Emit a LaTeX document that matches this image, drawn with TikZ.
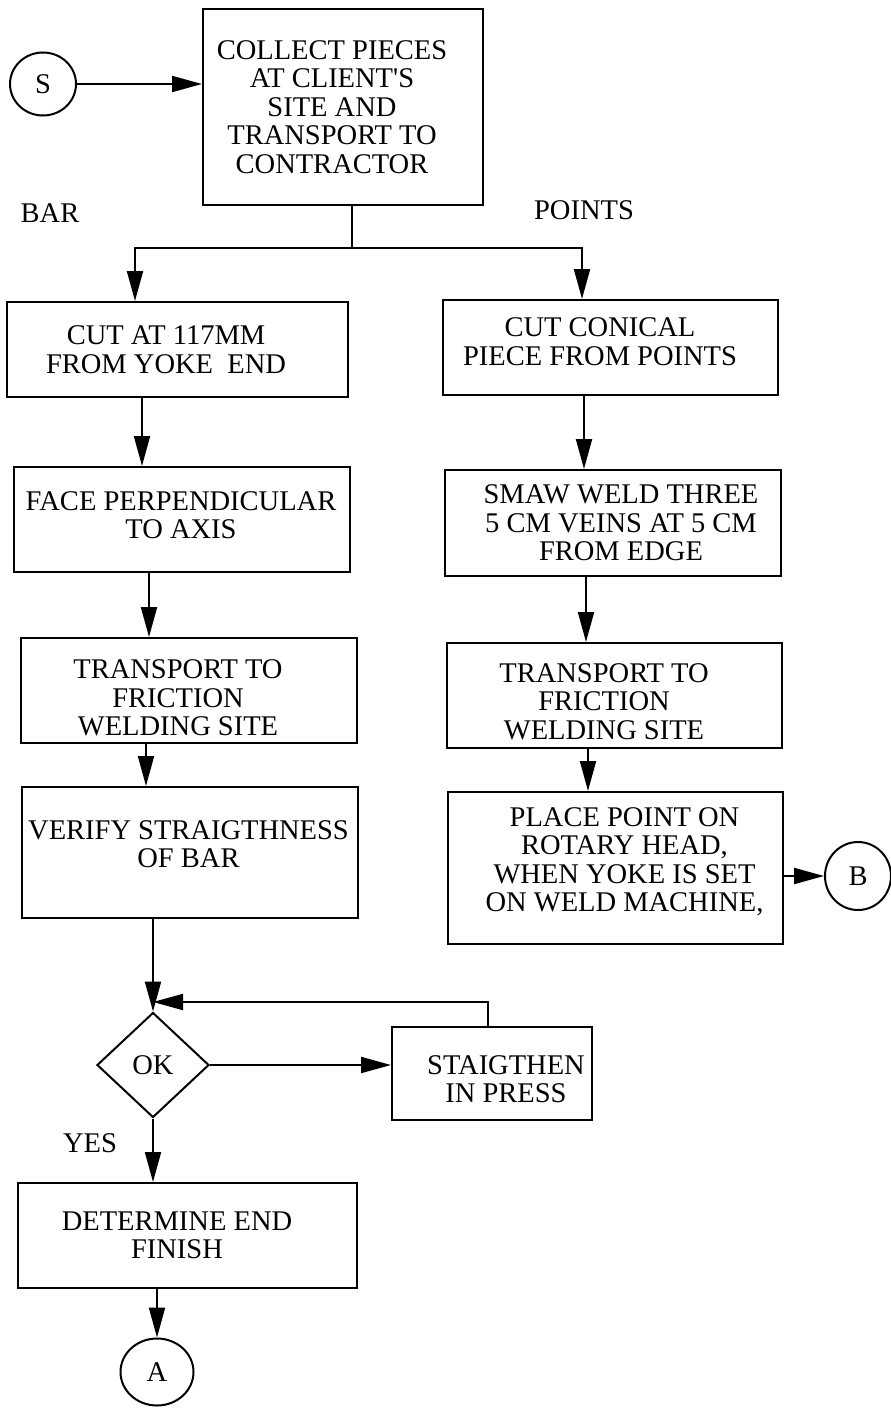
\documentclass[tikz,border=0pt]{standalone}
\usepackage{fontspec}
\setmainfont{Liberation Serif}
\usetikzlibrary{arrows.meta,shapes.geometric}

\begin{document}
\begin{tikzpicture}[x=1pt,y=-1pt,
  every node/.style={font=\fontsize{28.5}{28.5}\selectfont},
  box/.style={draw, line width=2pt, rectangle, inner sep=0pt},
  txt/.style={align=center, inner sep=0pt},
  term/.style={draw, ellipse, line width=2pt, inner sep=0pt},
  decision/.style={draw, diamond, line width=2pt, inner sep=0pt},
  flow/.style={line width=2pt, -{Triangle[length=30pt,width=16pt]}},
  link/.style={line width=2pt}
]
\useasboundingbox (0,0) rectangle (891,1408);

% start connector and first step
\node[term, minimum width=66pt, minimum height=63pt] (s) at (43,84) {S};
\node[box, minimum width=280pt, minimum height=196pt,
  label={[txt, xshift=-11pt]center:{COLLECT PIECES\\AT CLIENT\textquotesingle S\\SITE AND\\TRANSPORT TO\\CONTRACTOR}}]
  (collect) at (343,107) {};

% branch captions
\node (bar) at (50,213) {BAR};
\node (points) at (584,210) {POINTS};

% bar column
\node[box, minimum width=341pt, minimum height=95pt,
  label={[txt, xshift=-11.5pt]center:{CUT AT 117MM\\FROM YOKE\ \ END}}]
  (cut) at (177.5,349.5) {};
\node[box, minimum width=336pt, minimum height=105pt,
  label={[txt, xshift=-1pt, yshift=4.5pt]center:{FACE PERPENDICULAR\\TO AXIS}}]
  (face) at (182,519.5) {};
\node[box, minimum width=336pt, minimum height=105pt,
  label={[txt, xshift=-11pt, yshift=-7.5pt]center:{TRANSPORT TO\\FRICTION\\WELDING SITE}}]
  (trbar) at (189,690.5) {};
\node[box, minimum width=336pt, minimum height=131pt,
  label={[txt, xshift=-1.5pt, yshift=8.5pt]center:{VERIFY STRAIGTHNESS\\OF BAR}}]
  (verify) at (190,852.5) {};
\node[decision, minimum width=112pt, minimum height=105pt] (ok) at (153,1065) {OK};
\node[box, minimum width=200pt, minimum height=93pt,
  label={[txt, xshift=14pt, yshift=-5.5pt]center:{STAIGTHEN\\IN PRESS}}]
  (press) at (492,1073.5) {};
\node (yes) at (90,1143) {YES};
\node[box, minimum width=339pt, minimum height=105pt,
  label={[txt, xshift=-10.5pt]center:{DETERMINE END\\FINISH}}]
  (finish) at (187.5,1235.5) {};
\node[term, minimum width=73pt, minimum height=67pt] (a) at (157,1372) {A};

% points column
\node[box, minimum width=335pt, minimum height=95pt,
  label={[txt, xshift=-10.5pt, yshift=6pt]center:{CUT CONICAL\\PIECE FROM POINTS}}]
  (cone) at (610.5,347.5) {};
\node[box, minimum width=336pt, minimum height=106pt,
  label={[txt, xshift=8pt]center:{SMAW WELD THREE\\5 CM VEINS AT 5 CM\\FROM EDGE}}]
  (smaw) at (613,523) {};
\node[box, minimum width=335pt, minimum height=105pt,
  label={[txt, xshift=-10.5pt, yshift=-6pt]center:{TRANSPORT TO\\FRICTION\\WELDING SITE}}]
  (trpts) at (614.5,695.5) {};
\node[box, minimum width=335pt, minimum height=152pt,
  label={[txt, xshift=9pt, yshift=6.5pt]center:{PLACE POINT ON\\ROTARY HEAD,\\WHEN YOKE IS SET\\ON WELD MACHINE,}}]
  (place) at (615.5,868) {};
\node[term, minimum width=66pt, minimum height=68pt] (b) at (858,876) {B};

% routing points
\coordinate (split) at (352,248);
\coordinate (lcorner) at (135,248);
\coordinate (rcorner) at (582,248);
\coordinate (ret) at (488,1002);

% connectors
\draw[flow] (s.east) -- (s.east -| collect.west);
\draw[link] (split |- collect.south) -- (split);
\draw[flow] (split) -- (lcorner) -- (lcorner |- cut.north);
\draw[flow] (split) -- (rcorner) -- (rcorner |- cone.north);

\draw[flow] ([xshift=-35.5pt]cut.south) -- ([xshift=-40pt]face.north);
\draw[flow] ([xshift=-33pt]face.south) -- ([xshift=-40pt]trbar.north);
\draw[flow] ([xshift=-43pt]trbar.south) -- ([xshift=-44pt]verify.south |- verify.north);
\draw[flow] (ok.north |- verify.south) -- (ok.north);
\draw[flow] (ok.east) -- (ok.east -| press.west);
\draw[flow] (ret |- press.north) -- (ret) -- (ok.north |- ret);
\draw[flow] (ok.south) -- (ok.south |- finish.north);
\draw[flow] (a.north |- finish.south) -- (a.north);

\draw[flow] ([xshift=-26.5pt]cone.south) -- ([xshift=-29pt]smaw.north);
\draw[flow] ([xshift=-27pt]smaw.south) -- ([xshift=-28.5pt]trpts.north);
\draw[flow] ([xshift=-26.5pt]trpts.south) -- ([xshift=-27.5pt]place.north);
\draw[flow] (b.west -| place.east) -- (b.west);
\end{tikzpicture}
\end{document}
